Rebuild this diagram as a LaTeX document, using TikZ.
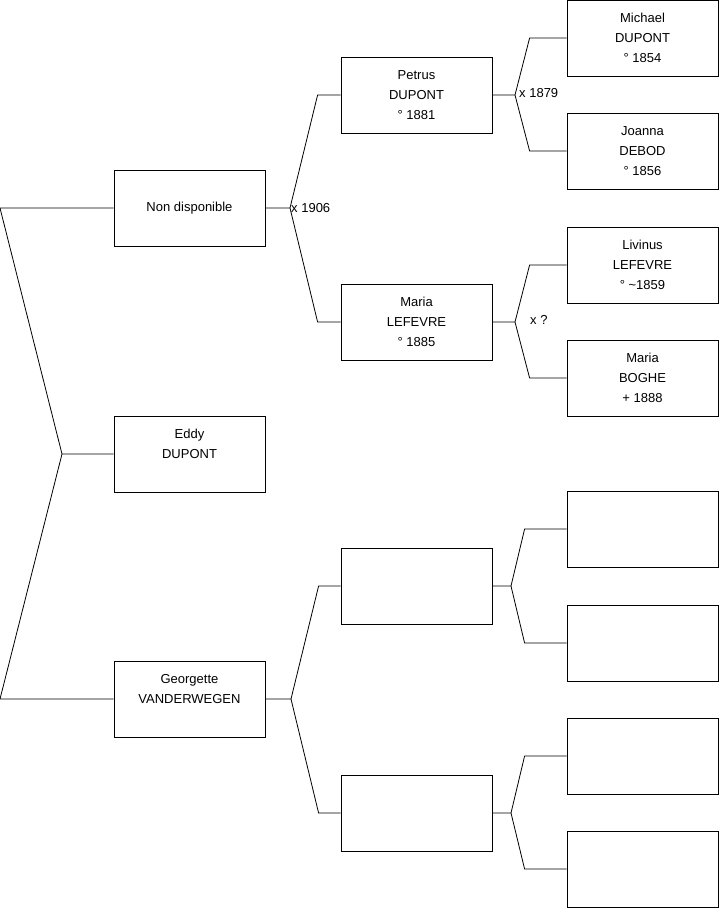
\documentclass[tikz,border=0pt]{standalone}
\usepackage{fontspec}
\setmainfont{Liberation Sans}
\usetikzlibrary{positioning,calc}

\begin{document}
\begin{tikzpicture}[
  x=1pt,y=-1pt,
  every node/.style={font=\fontsize{13}{20}\selectfont,align=center},
  person/.style={draw,fill=white,line width=0.8pt,minimum width=151pt,minimum height=76pt,inner sep=0pt},
  link/.style={line width=0.8pt},
  union/.style={anchor=west,inner sep=1pt}
]
\useasboundingbox (0,0) rectangle (719,908);
% first generation
\node[person] (nondispo) at (189.5,208) {Non disponible};
\node[person] (eddy) at (189.5,454) {Eddy\\DUPONT\\\mbox{}};
\node[person] (georgette) at (189.5,699) {Georgette\\VANDERWEGEN\\\mbox{}};
% parents
\node[person] (petrus) at (416.5,95) {Petrus\\DUPONT\\° 1881};
\node[person] (maria) at (416.5,322) {Maria\\LEFEVRE\\° 1885};
\node[person] (gpa) at (416.5,586) {};
\node[person] (gpb) at (416.5,813) {};
% grandparents
\node[person] (michael) at (642.5,38) {Michael\\DUPONT\\° 1854};
\node[person] (joanna) at (642.5,151) {Joanna\\DEBOD\\° 1856};
\node[person] (livinus) at (642.5,265) {Livinus\\LEFEVRE\\° \textasciitilde1859};
\node[person] (boghe) at (642.5,378) {Maria\\BOGHE\\+ 1888};
\node[person] (ggpa) at (642.5,529) {};
\node[person] (ggpb) at (642.5,643) {};
\node[person] (ggpc) at (642.5,756) {};
\node[person] (ggpd) at (642.5,869) {};
% forks
\coordinate (froot) at (62,454);
\coordinate (f1) at (290,208);
\coordinate (f2) at (291,699);
\coordinate (f3) at (515,95);
\coordinate (f4) at (515,322);
\coordinate (f5) at (511,586);
\coordinate (f6) at (511,813);
\draw[link] (eddy.west) -- (froot) -- (0,208) -- (nondispo.west);
\draw[link] (froot) -- (0,699) -- (georgette.west);
\draw[link] (nondispo.east) -- (f1) -- ($(petrus.west)+(-23,0)$) -- (petrus.west);
\draw[link] (f1) -- ($(maria.west)+(-23,0)$) -- (maria.west);
\draw[link] (georgette.east) -- (f2) -- ($(gpa.west)+(-22,0)$) -- (gpa.west);
\draw[link] (f2) -- ($(gpb.west)+(-22,0)$) -- (gpb.west);
\draw[link] (petrus.east) -- (f3) -- ($(michael.west)+(-37,0)$) -- (michael.west);
\draw[link] (f3) -- ($(joanna.west)+(-37,0)$) -- (joanna.west);
\draw[link] (maria.east) -- (f4) -- ($(livinus.west)+(-37,0)$) -- (livinus.west);
\draw[link] (f4) -- ($(boghe.west)+(-37,0)$) -- (boghe.west);
\draw[link] (gpa.east) -- (f5) -- ($(ggpa.west)+(-42,0)$) -- (ggpa.west);
\draw[link] (f5) -- ($(ggpb.west)+(-42,0)$) -- (ggpb.west);
\draw[link] (gpb.east) -- (f6) -- ($(ggpc.west)+(-42,0)$) -- (ggpc.west);
\draw[link] (f6) -- ($(ggpd.west)+(-42,0)$) -- (ggpd.west);
% marriages
\node[union] (m1) at (f1) {x 1906};
\node[union] (m2) at ($(f3)+(3,-2)$) {x 1879};
\node[union] (m3) at ($(f4)+(14,-2)$) {x ?};
\end{tikzpicture}
\end{document}
